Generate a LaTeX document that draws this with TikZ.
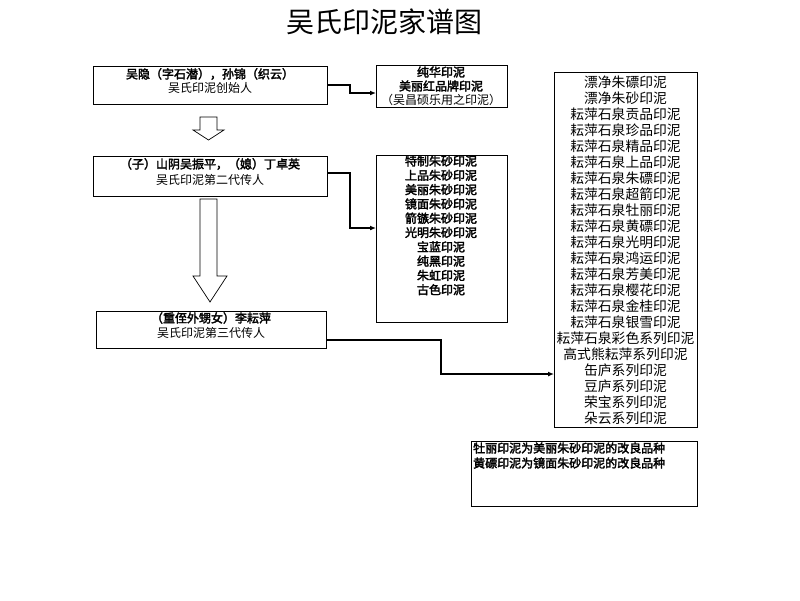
\documentclass[tikz,border=0pt]{standalone}
\usepackage{fontspec}
\usetikzlibrary{arrows.meta}
\newfontfamily\cjk{Noto Sans CJK SC}
\newfontfamily\cjkb[FakeBold=2.6]{Noto Sans CJK SC}
\begin{document}
\begin{tikzpicture}[x=1pt,y=-1pt,
  box/.style={draw=black,line width=0.9pt,anchor=north west,inner sep=0pt},
  txt/.style={inner sep=0pt,font=\cjk\fontsize{12}{14}\selectfont},
  btxt/.style={inner sep=0pt,font=\cjkb\fontsize{12}{14}\selectfont},
  conn/.style={draw=black,line width=1.5pt,-{Latex[length=6pt,width=5pt]}},
  blockarrow/.style={draw=black,line width=0.7pt,fill=white}]
\useasboundingbox (0,0) rectangle (800,600);
% title
\node[inner sep=0pt,font=\cjk\fontsize{28}{30}\selectfont] (title) at (384,22) {吴氏印泥家谱图};
% boxes
\node[box,minimum width=234pt,minimum height=38pt] (b1) at (93,66) {};
\node[box,minimum width=131pt,minimum height=42pt] (b2) at (376,65) {};
\node[box,minimum width=234pt,minimum height=40pt] (b3) at (93,156) {};
\node[box,minimum width=131pt,minimum height=167pt] (b4) at (376,155) {};
\node[box,minimum width=230pt,minimum height=37pt] (b5) at (96,311) {};
\node[box,minimum width=143pt,minimum height=355pt] (b6) at (554,72) {};
\node[box,minimum width=226pt,minimum height=65pt] (b7) at (471,441) {};
% box1 text
\node[btxt] (t1a) at (210,74) {吴隐（字石潜），孙锦（织云）};
\node[txt] (t1b) at (210,88) {吴氏印泥创始人};
% box2 text
\node[btxt] (t2a) at (441,72) {纯华印泥};
\node[btxt] (t2b) at (441,86) {美丽红品牌印泥};
\node[txt] (t2c) at (441,100) {（吴昌硕乐用之印泥）};
% box3 text
\node[btxt] (t3a) at (210,164) {（子）山阴吴振平，（媳）丁卓英};
\node[txt] (t3b) at (210,180) {吴氏印泥第二代传人};
% box5 text
\node[btxt] (t5a) at (211,318) {（重侄外甥女）李耘萍};
\node[txt] (t5b) at (211,333) {吴氏印泥第三代传人};
% box4 list
\foreach \t [count=\i from 0] in {特制朱砂印泥,上品朱砂印泥,美丽朱砂印泥,镜面朱砂印泥,箭镞朱砂印泥,光明朱砂印泥,宝蓝印泥,纯黑印泥,朱虹印泥,古色印泥}
  \node[btxt] (m\i) at (441,{161+14.3*\i}) {\t};
% box6 list
\foreach \t [count=\i from 0] in {漂净朱磦印泥,漂净朱砂印泥,耘萍石泉贡品印泥,耘萍石泉珍品印泥,耘萍石泉精品印泥,耘萍石泉上品印泥,耘萍石泉朱磦印泥,耘萍石泉超箭印泥,耘萍石泉牡丽印泥,耘萍石泉黄磦印泥,耘萍石泉光明印泥,耘萍石泉鸿运印泥,耘萍石泉芳美印泥,耘萍石泉樱花印泥,耘萍石泉金桂印泥,耘萍石泉银雪印泥,耘萍石泉彩色系列印泥,高式熊耘萍系列印泥,缶庐系列印泥,豆庐系列印泥,荣宝系列印泥,朵云系列印泥}
  \node[inner sep=0pt,font=\cjk\fontsize{13.8}{16}\selectfont] (r\i) at (625.5,{82+16*\i}) {\t};
% box7 text
\node[btxt,anchor=west] (n1) at (473,448) {牡丽印泥为美丽朱砂印泥的改良品种};
\node[btxt,anchor=west] (n2) at (473,463) {黄磦印泥为镜面朱砂印泥的改良品种};
% connectors
\draw[conn] (b1.east |- 0,85) -- (350,85) |- (b2.west |- 0,93);
\draw[conn] (b3.east |- 0,173) -- (350,173) |- (b4.west |- 0,228);
\draw[conn] (b5.east |- 0,340) -- (441,340) |- (b6.west |- 0,374);
% block arrows
\draw[blockarrow] (200,117) -- (217,117) -- (217,130) -- (224,130) -- (208.5,140) -- (193,130) -- (200,130) -- cycle;
\draw[blockarrow] (200,199) -- (217,199) -- (217,276) -- (227,276) -- (210,302) -- (193,276) -- (200,276) -- cycle;
\end{tikzpicture}
\end{document}
